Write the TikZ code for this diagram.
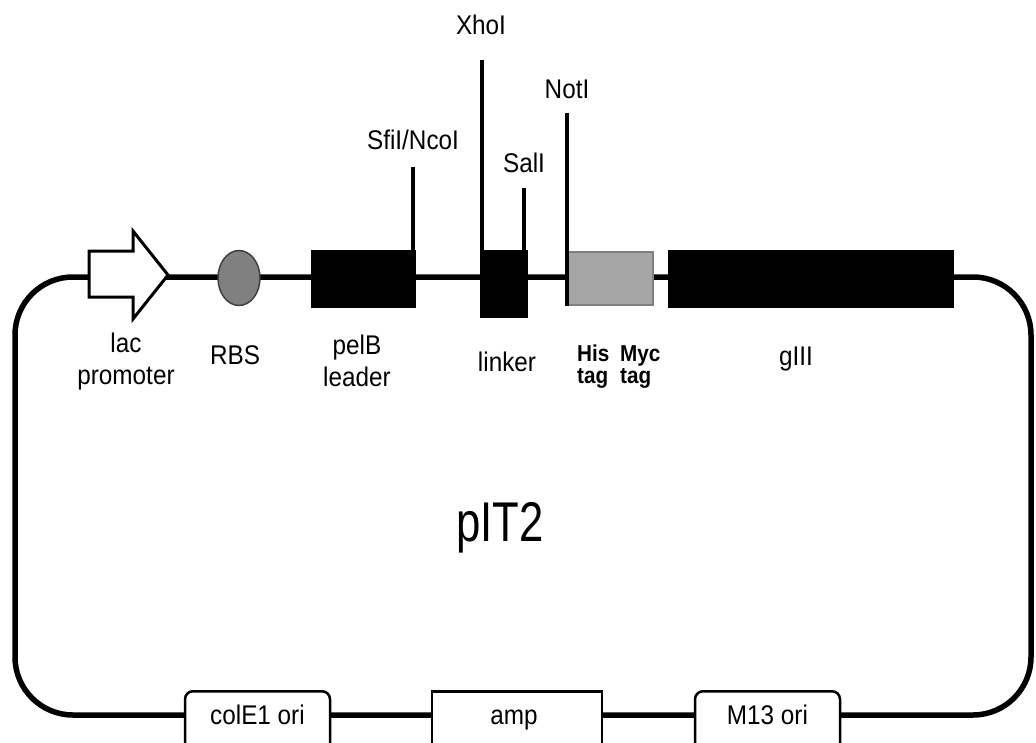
\documentclass[tikz,border=0pt]{standalone}
\usepackage{fontspec}
\setmainfont[FakeStretch=0.9]{Liberation Sans}
\newfontfamily\bigfont[FakeStretch=0.78]{Liberation Sans}
\usetikzlibrary{shapes.geometric}
\begin{document}
\begin{tikzpicture}[x=1pt,y=-1pt,
  backbone/.style={line width=5.5pt},
  blk/.style={fill=black, draw=black, line width=1pt, inner sep=0pt},
  site/.style={line width=3.5pt},
  lbl/.style={font=\fontsize{27}{32}\selectfont, inner sep=0pt, anchor=north, align=center},
  tagtxt/.style={font=\bfseries\fontsize{23}{22}\selectfont, inner sep=0pt, anchor=north west, align=left},
  orib/.style={draw=black, line width=2.5pt, fill=white, inner sep=0pt, minimum height=62, anchor=north},
]
\useasboundingbox (0,0) rectangle (1036,742);
\fill[white] (0,0) rectangle (1036,742);
% backbone
\draw[backbone, rounded corners=58] (15,277) rectangle (1031,715);
% lac promoter arrow
\coordinate (lac) at (128,275);
\draw[line width=3pt, fill=white, line join=miter] (89,251) -- (133,251) -- (133,231) -- (168,275) -- (133,319) -- (133,297) -- (89,297) -- cycle;
% RBS
\node[ellipse, draw=black!75, fill=black!50, line width=1.5pt, minimum width=42, minimum height=55, inner sep=0pt] (rbs) at (239,278) {};
% boxes
\node[blk, minimum width=104, minimum height=57] (pelb) at (363,278.5) {};
\node[blk, minimum width=47, minimum height=67] (linker) at (503.5,283.5) {};
\node[fill=black!35, draw=black!50, line width=2pt, inner sep=0pt, minimum width=85, minimum height=53] (tags) at (610.5,278.5) {};
\node[blk, minimum width=285, minimum height=57] (giii) at (810.5,278.5) {};
% restriction sites
\coordinate (sfiTop) at (413,167);
\coordinate (xhoTop) at (482,60);
\coordinate (salTop) at (524,188);
\coordinate (notTop) at (567,113);
\draw[site] (sfiTop) -- (sfiTop |- pelb.north);
\draw[site] (xhoTop) -- (xhoTop |- linker.north);
\draw[site] (salTop) -- (salTop |- linker.north);
\draw[site] (notTop) -- (notTop |- tags.south);
\node[lbl] (sfiL) at (413,130) {SfiI/NcoI};
\node[lbl] (xhoL) at (481,15) {XhoI};
\node[lbl] (salL) at (524,153) {SalI};
\node[lbl] (notL) at (567,80) {NotI};
% feature labels
\node[lbl] (lacL) at (126,333) {lac\\promoter};
\node[lbl] (rbsL) at (235,345) {RBS};
\node[lbl] (pelbL) at (357,335) {pelB\\leader};
\node[lbl] (linkerL) at (507,352) {linker};
\node[tagtxt] (hisL) at (577,345) {His\\tag};
\node[tagtxt] (mycL) at (620,345) {Myc\\tag};
\node[lbl] (giiiL) at (796,347) {gIII};
% plasmid name
\node[font=\bigfont\fontsize{56}{60}\selectfont, inner sep=0pt, anchor=north] (name) at (500,502) {pIT2};
% bottom elements
\node[orib, rounded corners=8, minimum width=145] (cole1) at (257.5,690) {};
\node[lbl, anchor=base] (cole1L) at (257.5,724) {colE1 ori};
\node[orib, minimum width=170] (amp) at (517,690) {};
\node[lbl, anchor=base] (ampL) at (514,724) {amp};
\node[orib, rounded corners=8, minimum width=145] (m13) at (767.5,690) {};
\node[lbl, anchor=base] (m13L) at (767.5,724) {M13 ori};
\end{tikzpicture}
\end{document}
